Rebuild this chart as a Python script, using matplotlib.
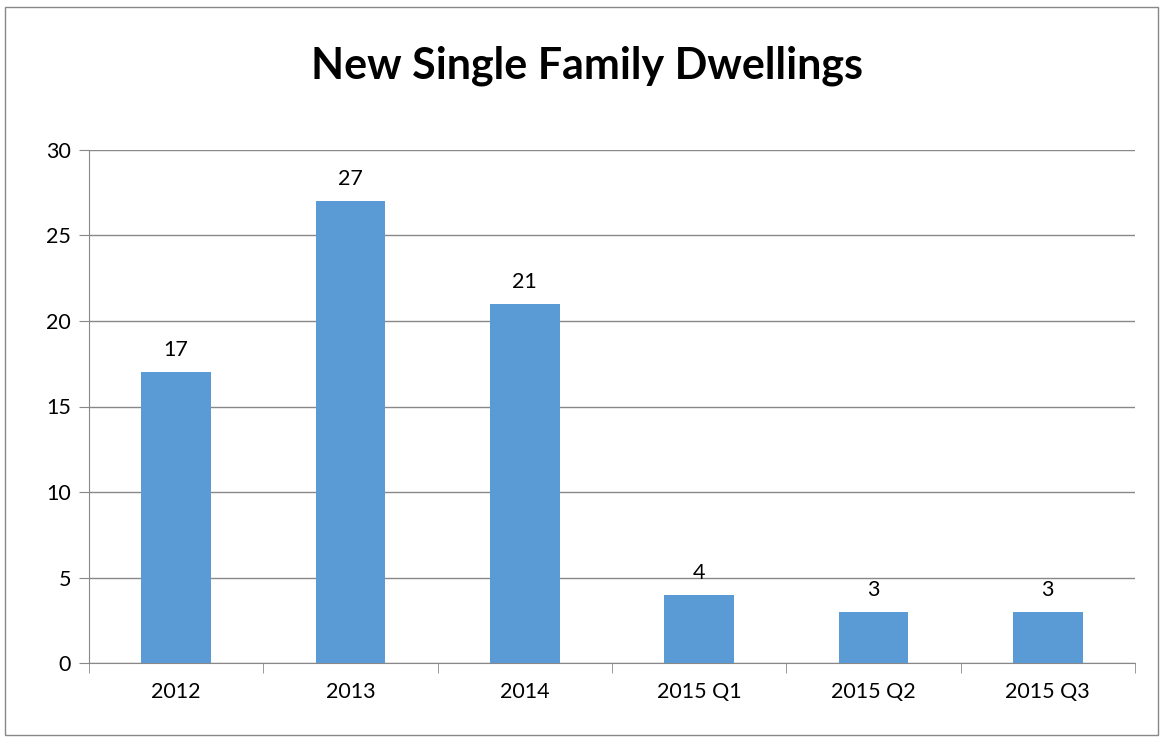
import matplotlib.pyplot as plt
from matplotlib.patches import Rectangle

categories = ['2012', '2013', '2014', '2015 Q1', '2015 Q2', '2015 Q3']
values = [17, 27, 21, 4, 3, 3]
title = 'New Single Family Dwellings'

plt.rcParams['font.family'] = ['Lato', 'DejaVu Sans']

fig = plt.figure(figsize=(11.64, 7.41), dpi=100)
ax = fig.add_axes([89 / 1164, 78 / 741, (1135 - 89) / 1164, (663 - 150) / 741])

# outer chart border
fig.patches.append(Rectangle((5 / 1164, 6 / 741), 1153 / 1164, 728 / 741,
                             transform=fig.transFigure, fill=False,
                             edgecolor='#888888', linewidth=1))

x = list(range(len(categories)))
bars = ax.bar(x, values, width=0.4, color='#5B9BD5', zorder=3)
for xi, v in zip(x, values):
    ax.text(xi, v + 0.7, str(v), ha='center', va='bottom', fontsize=15.5)

ax.set_xlim(-0.5, len(categories) - 0.5)
ax.set_ylim(0, 30)
ax.set_yticks(range(0, 31, 5))
ax.set_xticks(x)
ax.set_xticklabels(categories, fontsize=15.5)
ax.tick_params(axis='y', labelsize=15.5, length=7, color='#888888', pad=6)
ax.tick_params(axis='x', length=0, pad=14)
# tick marks between categories
ax.set_xticks([i - 0.5 for i in range(len(categories) + 1)], minor=True)
ax.tick_params(axis='x', which='minor', length=7, color='#888888')

ax.grid(axis='y', color='#888888', linewidth=1, zorder=0)
for side in ['top', 'right']:
    ax.spines[side].set_visible(False)
ax.spines['left'].set_color('#888888')
ax.spines['bottom'].set_color('#888888')

fig.text(587 / 1164, 1 - 66 / 741, title, ha='center', va='center',
         fontsize=31, fontweight='bold')

fig.savefig('out.png', dpi=100)
